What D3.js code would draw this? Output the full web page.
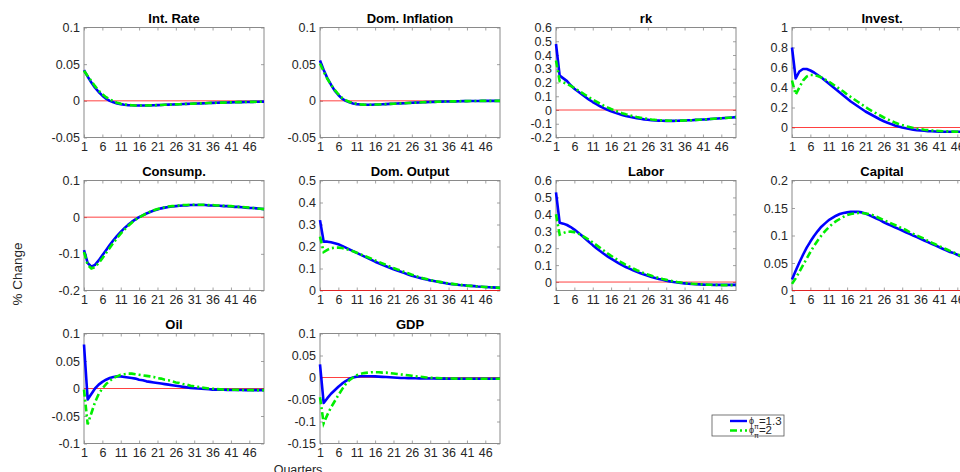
<!DOCTYPE html>
<html>
<head>
<meta charset="utf-8">
<script src="https://cdn.jsdelivr.net/npm/d3@7"></script>
<style>
html,body{margin:0;padding:0;background:#fff;overflow:hidden;}
svg{display:block;}
text{font-family:"Liberation Sans",Arial,Helvetica,sans-serif;}
</style>
</head>
<body>
<svg id="chart" width="960" height="472"></svg>
<script>
// ---------- DATA ----------
const quarters = d3.range(1, 51);
const xTickLabels = [1, 6, 11, 16, 21, 26, 31, 36, 41, 46];
const titles = ["Int. Rate", "Dom. Inflation", "rk", "Invest.", "Consump.", "Dom. Output", "Labor", "Capital", "Oil", "GDP"];
const yMins = [-0.05, -0.05, -0.2, -0.1, -0.2, 0, -0.05, 0, -0.1, -0.15];
const yMaxs = [0.1, 0.1, 0.6, 1, 0.1, 0.5, 0.6, 0.2, 0.1, 0.1];
const yTickLabels = [
  [-0.05, 0, 0.05, 0.1],
  [-0.05, 0, 0.05, 0.1],
  [-0.2, -0.1, 0, 0.1, 0.2, 0.3, 0.4, 0.5, 0.6],
  [0, 0.2, 0.4, 0.6, 0.8, 1],
  [-0.2, -0.1, 0, 0.1],
  [0, 0.1, 0.2, 0.3, 0.4, 0.5],
  [0, 0.1, 0.2, 0.3, 0.4, 0.5, 0.6],
  [0, 0.05, 0.1, 0.15, 0.2],
  [-0.1, -0.05, 0, 0.05, 0.1],
  [-0.15, -0.1, -0.05, 0, 0.05, 0.1]
];
const seriesNames = ["ϕπ=1.3", "ϕπ=2"];

// phi_pi = 1.3 (blue solid)
const intRate13 = [0.042,0.033,0.025,0.018,0.012,0.007,0.003,0.000,-0.002,-0.0035,-0.0045,-0.0053,-0.0058,-0.0061,-0.0063,-0.0064,-0.0064,-0.0063,-0.0062,-0.006,-0.0058,-0.0056,-0.0054,-0.0052,-0.005,-0.0048,-0.0046,-0.0044,-0.0042,-0.004,-0.0038,-0.0036,-0.0034,-0.0032,-0.003,-0.0028,-0.0027,-0.0025,-0.0024,-0.0022,-0.0021,-0.002,-0.0018,-0.0017,-0.0016,-0.0015,-0.0014,-0.0013,-0.0012,-0.0011];
const domInfl13 = [0.055,0.042,0.031,0.022,0.014,0.008,0.003,0.000,-0.002,-0.0035,-0.0045,-0.005,-0.0053,-0.0054,-0.0053,-0.0051,-0.0049,-0.0047,-0.0045,-0.0042,-0.004,-0.0037,-0.0035,-0.0032,-0.003,-0.0027,-0.0025,-0.0022,-0.002,-0.0018,-0.0016,-0.0014,-0.0013,-0.0011,-0.001,-0.0009,-0.0008,-0.0007,-0.0005,-0.0004,-0.0004,-0.0003,-0.0002,-0.0002,-0.0001,-0.0001,0,0,0,0];
const rk13 = [0.48,0.25,0.23,0.21,0.18,0.155,0.135,0.115,0.095,0.075,0.058,0.042,0.027,0.014,0.002,-0.009,-0.019,-0.028,-0.036,-0.043,-0.049,-0.055,-0.06,-0.064,-0.068,-0.071,-0.074,-0.076,-0.077,-0.078,-0.079,-0.079,-0.079,-0.078,-0.077,-0.076,-0.075,-0.074,-0.072,-0.071,-0.069,-0.068,-0.066,-0.064,-0.062,-0.06,-0.058,-0.056,-0.054,-0.052];
const invest13 = [0.80,0.49,0.56,0.585,0.585,0.57,0.55,0.525,0.50,0.47,0.44,0.41,0.38,0.35,0.32,0.29,0.26,0.235,0.21,0.185,0.16,0.14,0.12,0.10,0.08,0.063,0.048,0.034,0.021,0.01,0.0,-0.008,-0.015,-0.021,-0.026,-0.03,-0.033,-0.036,-0.038,-0.04,-0.041,-0.042,-0.043,-0.043,-0.043,-0.043,-0.043,-0.043,-0.042,-0.042];
const consump13 = [-0.09,-0.125,-0.135,-0.13,-0.118,-0.104,-0.09,-0.076,-0.063,-0.051,-0.04,-0.03,-0.021,-0.013,-0.006,0.0,0.005,0.01,0.014,0.018,0.021,0.024,0.026,0.028,0.029,0.030,0.031,0.032,0.032,0.033,0.033,0.033,0.033,0.033,0.032,0.032,0.031,0.031,0.030,0.030,0.029,0.028,0.028,0.027,0.026,0.025,0.025,0.024,0.023,0.022];
const domOutput13 = [0.32,0.222,0.222,0.219,0.215,0.21,0.203,0.195,0.187,0.179,0.171,0.163,0.155,0.147,0.139,0.131,0.124,0.117,0.11,0.103,0.097,0.091,0.085,0.079,0.073,0.067,0.062,0.058,0.054,0.05,0.046,0.043,0.04,0.037,0.034,0.031,0.029,0.027,0.025,0.024,0.022,0.021,0.02,0.018,0.017,0.016,0.015,0.014,0.013,0.012];
const labor13 = [0.53,0.35,0.345,0.337,0.325,0.31,0.293,0.275,0.256,0.237,0.218,0.2,0.183,0.167,0.152,0.138,0.125,0.112,0.1,0.089,0.079,0.069,0.06,0.052,0.044,0.037,0.03,0.024,0.018,0.013,0.008,0.004,0.0,-0.003,-0.006,-0.008,-0.01,-0.012,-0.013,-0.014,-0.015,-0.016,-0.016,-0.017,-0.017,-0.017,-0.017,-0.017,-0.017,-0.017];
const capital13 = [0.02,0.036,0.051,0.065,0.078,0.089,0.099,0.108,0.116,0.122,0.128,0.132,0.136,0.139,0.141,0.142,0.143,0.143,0.143,0.142,0.14,0.137,0.134,0.131,0.128,0.124,0.121,0.118,0.115,0.112,0.109,0.106,0.103,0.1,0.097,0.094,0.091,0.088,0.085,0.082,0.079,0.076,0.073,0.07,0.068,0.065,0.062,0.06,0.057,0.055];
const oil13 = [0.08,-0.02,-0.01,0.0,0.007,0.012,0.016,0.019,0.021,0.022,0.022,0.021,0.02,0.019,0.018,0.016,0.015,0.013,0.012,0.011,0.01,0.009,0.008,0.007,0.006,0.005,0.004,0.003,0.002,0.001,0.0005,0.0,-0.0005,-0.001,-0.0015,-0.002,-0.002,-0.0022,-0.0024,-0.0025,-0.0026,-0.0027,-0.0028,-0.0028,-0.0029,-0.0029,-0.003,-0.003,-0.003,-0.003];
const gdp13 = [0.03,-0.058,-0.047,-0.037,-0.029,-0.021,-0.014,-0.008,-0.003,0.0,0.002,0.003,0.003,0.003,0.003,0.0025,0.002,0.0015,0.001,0.0005,0.0,-0.0005,-0.001,-0.0012,-0.0014,-0.0016,-0.0018,-0.002,-0.0021,-0.0022,-0.0023,-0.0024,-0.0025,-0.0026,-0.0026,-0.0027,-0.0027,-0.0028,-0.0028,-0.0028,-0.0029,-0.0029,-0.0029,-0.003,-0.003,-0.003,-0.003,-0.003,-0.003,-0.003];

// phi_pi = 2 (green dash-dot)
const intRate2 = [0.041,0.034,0.027,0.020,0.014,0.009,0.005,0.002,-0.0005,-0.0025,-0.004,-0.005,-0.0056,-0.006,-0.0063,-0.0064,-0.0064,-0.0063,-0.0062,-0.006,-0.0058,-0.0056,-0.0054,-0.0052,-0.005,-0.0048,-0.0046,-0.0044,-0.0042,-0.004,-0.0038,-0.0036,-0.0034,-0.0032,-0.003,-0.0028,-0.0027,-0.0025,-0.0024,-0.0022,-0.0021,-0.002,-0.0018,-0.0017,-0.0016,-0.0015,-0.0014,-0.0013,-0.0012,-0.0011];
const domInfl2 = [0.051,0.040,0.030,0.022,0.015,0.009,0.004,0.001,-0.0015,-0.003,-0.0042,-0.0048,-0.0052,-0.0053,-0.0053,-0.0051,-0.0049,-0.0047,-0.0045,-0.0042,-0.004,-0.0037,-0.0035,-0.0032,-0.003,-0.0027,-0.0025,-0.0022,-0.002,-0.0018,-0.0016,-0.0014,-0.0013,-0.0011,-0.001,-0.0009,-0.0008,-0.0007,-0.0005,-0.0004,-0.0004,-0.0003,-0.0002,-0.0002,-0.0001,-0.0001,0,0,0,0];
const rk2 = [0.36,0.21,0.20,0.19,0.175,0.16,0.143,0.126,0.109,0.092,0.076,0.061,0.046,0.032,0.019,0.007,-0.004,-0.014,-0.023,-0.031,-0.038,-0.045,-0.051,-0.056,-0.061,-0.065,-0.069,-0.072,-0.074,-0.076,-0.077,-0.078,-0.079,-0.078,-0.077,-0.076,-0.075,-0.074,-0.072,-0.071,-0.069,-0.068,-0.066,-0.064,-0.062,-0.06,-0.058,-0.056,-0.054,-0.052];
const invest2 = [0.47,0.33,0.40,0.47,0.51,0.525,0.525,0.515,0.50,0.48,0.46,0.435,0.41,0.385,0.36,0.33,0.305,0.28,0.255,0.23,0.205,0.18,0.16,0.14,0.12,0.10,0.082,0.065,0.05,0.036,0.024,0.013,0.004,-0.004,-0.011,-0.017,-0.022,-0.026,-0.03,-0.033,-0.035,-0.037,-0.039,-0.04,-0.041,-0.042,-0.042,-0.042,-0.042,-0.042];
const consump2 = [-0.095,-0.13,-0.14,-0.136,-0.125,-0.112,-0.098,-0.084,-0.07,-0.057,-0.045,-0.034,-0.024,-0.015,-0.007,-0.001,0.005,0.01,0.015,0.019,0.022,0.025,0.027,0.029,0.030,0.031,0.032,0.033,0.033,0.034,0.034,0.034,0.034,0.034,0.033,0.033,0.032,0.032,0.031,0.030,0.030,0.029,0.028,0.028,0.027,0.026,0.025,0.024,0.023,0.022];
const domOutput2 = [0.245,0.175,0.185,0.192,0.195,0.195,0.193,0.189,0.184,0.178,0.172,0.165,0.158,0.151,0.144,0.137,0.13,0.123,0.116,0.109,0.102,0.096,0.09,0.084,0.078,0.072,0.066,0.061,0.056,0.052,0.048,0.044,0.041,0.038,0.035,0.032,0.03,0.028,0.026,0.024,0.022,0.021,0.02,0.018,0.017,0.016,0.015,0.014,0.013,0.012];
const labor2 = [0.40,0.28,0.29,0.297,0.298,0.295,0.287,0.276,0.263,0.249,0.234,0.218,0.202,0.186,0.17,0.155,0.141,0.127,0.114,0.102,0.091,0.08,0.07,0.061,0.052,0.044,0.037,0.03,0.024,0.018,0.013,0.008,0.004,0.0,-0.003,-0.006,-0.008,-0.01,-0.012,-0.013,-0.014,-0.015,-0.016,-0.017,-0.017,-0.018,-0.018,-0.018,-0.018,-0.018];
const capital2 = [0.012,0.022,0.034,0.046,0.058,0.07,0.081,0.091,0.1,0.108,0.115,0.121,0.126,0.13,0.134,0.137,0.139,0.14,0.141,0.141,0.14,0.139,0.137,0.134,0.131,0.128,0.125,0.122,0.119,0.116,0.113,0.11,0.106,0.103,0.1,0.097,0.094,0.09,0.087,0.084,0.081,0.078,0.075,0.072,0.069,0.066,0.063,0.061,0.058,0.056];
const oil2 = [-0.002,-0.065,-0.045,-0.025,-0.01,0.0,0.008,0.014,0.019,0.022,0.025,0.026,0.027,0.027,0.026,0.025,0.024,0.023,0.022,0.021,0.019,0.018,0.016,0.015,0.013,0.011,0.01,0.008,0.007,0.005,0.004,0.003,0.002,0.001,0.0,-0.0005,-0.001,-0.0015,-0.002,-0.002,-0.0022,-0.0024,-0.0025,-0.0026,-0.0027,-0.0028,-0.0029,-0.003,-0.003,-0.003];
const gdp2 = [-0.045,-0.104,-0.085,-0.068,-0.054,-0.04,-0.027,-0.015,-0.006,0.0,0.005,0.008,0.01,0.011,0.012,0.012,0.012,0.011,0.011,0.01,0.009,0.008,0.007,0.006,0.005,0.004,0.003,0.002,0.001,0.0,-0.0005,-0.001,-0.0014,-0.0017,-0.002,-0.0022,-0.0024,-0.0025,-0.0026,-0.0027,-0.0028,-0.0028,-0.0029,-0.0029,-0.003,-0.003,-0.003,-0.003,-0.003,-0.003];

const series13 = [intRate13, domInfl13, rk13, invest13, consump13, domOutput13, labor13, capital13, oil13, gdp13];
const series2 = [intRate2, domInfl2, rk2, invest2, consump2, domOutput2, labor2, capital2, oil2, gdp2];

// ---------- LAYOUT ----------
const colLeft = [84, 320, 556, 792];
const rowTop = [27.5, 180.5, 333.5];
const pw = 180, ph = 110;
const axisColor = "#262626";
const frameColor = "#8a8a8a";

const svg = d3.select("#chart");
const fmt = v => String(+v.toFixed(3));

titles.forEach((title, i) => {
  const col = i % 4, row = Math.floor(i / 4);
  const g = svg.append("g").attr("transform", `translate(${colLeft[col]},${rowTop[row]})`);
  const x = d3.scaleLinear().domain([1, 50]).range([0, pw]);
  const y = d3.scaleLinear().domain([yMins[i], yMaxs[i]]).range([ph, 0]);

  const bottom = g.append("g").attr("transform", `translate(0,${ph})`)
    .call(d3.axisBottom(x).tickValues(xTickLabels).tickSizeInner(-3).tickSizeOuter(0).tickPadding(5).tickFormat(d => d));
  const top = g.append("g")
    .call(d3.axisTop(x).tickValues(xTickLabels).tickSizeInner(-3).tickSizeOuter(0).tickFormat(""));
  const left = g.append("g")
    .call(d3.axisLeft(y).tickValues(yTickLabels[i]).tickSizeInner(-3).tickSizeOuter(0).tickPadding(4).tickFormat(fmt));
  const right = g.append("g").attr("transform", `translate(${pw},0)`)
    .call(d3.axisRight(y).tickValues(yTickLabels[i]).tickSizeInner(-3).tickSizeOuter(0).tickFormat(""));
  [bottom, top, left, right].forEach(a => {
    a.select(".domain").remove();
    a.selectAll(".tick line").attr("stroke", frameColor).attr("stroke-width", 0.8);
    a.selectAll("text").attr("fill", axisColor).style("font-size", "12.5px")
      .style("font-family", '"Liberation Sans", Arial, sans-serif');
  });

  g.append("rect").attr("x", 0).attr("y", 0).attr("width", pw).attr("height", ph)
    .attr("fill", "none").attr("stroke", frameColor).attr("stroke-width", 1);

  g.append("line").attr("x1", 0).attr("x2", pw).attr("y1", y(0)).attr("y2", y(0))
    .attr("stroke", "#ff0000").attr("stroke-opacity", 0.75).attr("stroke-width", 1);

  const line = d3.line().x((d, k) => x(quarters[k])).y(d => y(d));
  g.append("path").datum(series13[i]).attr("d", line)
    .attr("fill", "none").attr("stroke", "#0000ff").attr("stroke-width", 2.6).attr("stroke-linejoin", "round");
  g.append("path").datum(series2[i]).attr("d", line)
    .attr("fill", "none").attr("stroke", "#00ee00").attr("stroke-width", 2.6)
    .attr("stroke-dasharray", "7,3,2,3");

  g.append("text").attr("x", pw / 2).attr("y", -5).attr("text-anchor", "middle")
    .style("font-size", "13px").style("font-weight", "bold").attr("fill", "#000").text(title);
});

svg.append("text").attr("transform", "translate(22,274) rotate(-90)").attr("text-anchor", "middle")
  .style("font-size", "13.5px").attr("fill", axisColor).text("% Change");
svg.append("text").attr("x", 298).attr("y", 474).attr("text-anchor", "middle")
  .style("font-size", "12.5px").attr("fill", axisColor).text("Quarters");

// legend
const lg = svg.append("g").attr("transform", "translate(712,415)");
lg.append("rect").attr("x", 0).attr("y", 0).attr("width", 72).attr("height", 21)
  .attr("fill", "#fff").attr("stroke", "#555").attr("stroke-width", 0.8);
const legendColors = ["#0000ff", "#00ee00"];
const legendDash = [null, "7,3,2,3"];
seriesNames.forEach((name, k) => {
  const yy = 6 + k * 9.5;
  lg.append("line").attr("x1", 18).attr("x2", 35).attr("y1", yy).attr("y2", yy)
    .attr("stroke", legendColors[k]).attr("stroke-width", 2.4)
    .attr("stroke-dasharray", legendDash[k]);
  const t = lg.append("text").attr("x", 37).attr("y", yy + 3.5).attr("fill", axisColor)
    .style("font-size", "11.5px");
  t.append("tspan").style("font-size", "9px").attr("dy", -1).text(name.slice(0, 1));
  t.append("tspan").style("font-size", "7px").attr("dy", 5).text(name.slice(1, 2));
  t.append("tspan").attr("dy", -4).text(name.slice(2));
});
</script>
</body>
</html>
